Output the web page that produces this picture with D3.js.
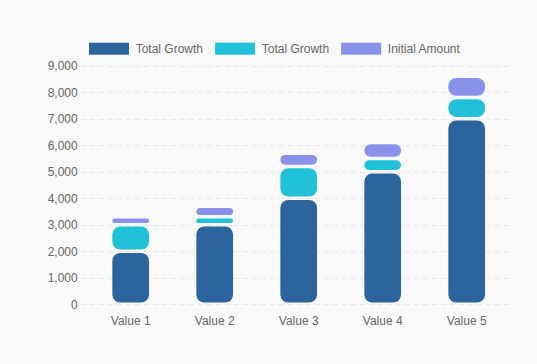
<!DOCTYPE html>
<html>
<head>
<meta charset="utf-8">
<script src="https://cdn.jsdelivr.net/npm/d3@7"></script>
<style>
html,body{margin:0;padding:0;background:#f9f9f9;}
svg{display:block;font-family:"Liberation Sans",Arial,Helvetica,sans-serif;}
</style>
</head>
<body>
<svg id="chart" width="537" height="364"></svg>
<script>
const categories = ["Value 1","Value 2","Value 3","Value 4","Value 5"];
const seriesNames = ["Total Growth","Total Growth","Initial Amount"];
const seriesColors = ["#2c649d","#22c1da","#8792e8"];
const darkValues = [2000,3000,4000,5000,7000];
const cyanValues = [1000,300,1200,500,800];
const purpleValues = [300,400,500,600,800];
const yTicks = [0,1000,2000,3000,4000,5000,6000,7000,8000,9000];

(function(){
const series = [darkValues, cyanValues, purpleValues];
const W = 537, H = 364;
const pLeft = 88.7, pRight = 508.7, pTop = 65.7, pBottom = 304.3;
const svg = d3.select("#chart");
svg.append("rect").attr("width",W).attr("height",H).attr("fill","#f9f9f9");

const x = d3.scaleBand().domain(categories).range([pLeft,pRight]).paddingInner(0).paddingOuter(0);
const y = d3.scaleLinear().domain([0,9000]).range([pBottom,pTop]);

// grid
const grid = svg.append("g");
grid.selectAll("line").data(yTicks).join("line")
  .attr("x1", pLeft-8).attr("x2", pRight)
  .attr("y1", d=>Math.round(y(d))+0.5).attr("y2", d=>Math.round(y(d))+0.5)
  .attr("stroke","#e8e8e8").attr("stroke-width",1).attr("stroke-dasharray","5,4");

// y axis labels
const yAxis = d3.axisLeft(y).tickValues(yTicks).tickSize(0).tickPadding(0).tickFormat(d3.format(","));
const ga = svg.append("g").attr("transform",`translate(${pLeft-11},0)`).call(yAxis);
ga.select(".domain").remove();
ga.selectAll("text").attr("fill","#666").attr("font-size",12).attr("font-family","Liberation Sans, Arial, sans-serif");

// x axis labels
const xAxis = d3.axisBottom(x).tickSize(0).tickPadding(0);
const gx = svg.append("g").attr("transform",`translate(0,${pBottom+12})`).call(xAxis);
gx.select(".domain").remove();
gx.selectAll("text").attr("fill","#666").attr("font-size",12).attr("font-family","Liberation Sans, Arial, sans-serif");

// bars
const barW = 36.7, inset = 1.7, maxR = 8;
function roundedRect(x0,y0,w,h,r){
  r = Math.min(r,w/2,h/2);
  return `M${x0+r},${y0}H${x0+w-r}A${r},${r} 0 0 1 ${x0+w},${y0+r}V${y0+h-r}A${r},${r} 0 0 1 ${x0+w-r},${y0+h}H${x0+r}A${r},${r} 0 0 1 ${x0},${y0+h-r}V${y0+r}A${r},${r} 0 0 1 ${x0+r},${y0}Z`;
}
const stacked = [];
categories.forEach((c,i)=>{
  let base = 0;
  series.forEach((s,k)=>{
    stacked.push({c, k, v0: base, v1: base + s[i]});
    base += s[i];
  });
});
svg.append("g").selectAll("path").data(stacked).join("path")
  .attr("d", d=>{
    const cx = x(d.c) + x.bandwidth()/2;
    const yt = y(d.v1) + inset, yb = y(d.v0) - inset;
    return roundedRect(cx - barW/2, yt, barW, Math.max(0,yb-yt), maxR);
  })
  .attr("fill", d=>seriesColors[d.k]);

// legend
const lg = svg.append("g");
let lx = 89;
const ly = 42.7;
seriesNames.forEach((n,k)=>{
  lg.append("rect").attr("x",lx).attr("y",ly).attr("width",40).attr("height",12).attr("fill",seriesColors[k]);
  const t = lg.append("text").attr("x",lx+46.7).attr("y",ly+6).attr("dy","0.35em")
    .attr("fill","#666").attr("font-size",12).text(n);
  const tw = t.node().getComputedTextLength();
  lx += 46.7 + tw + 12;
});
})();
</script>
</body>
</html>
